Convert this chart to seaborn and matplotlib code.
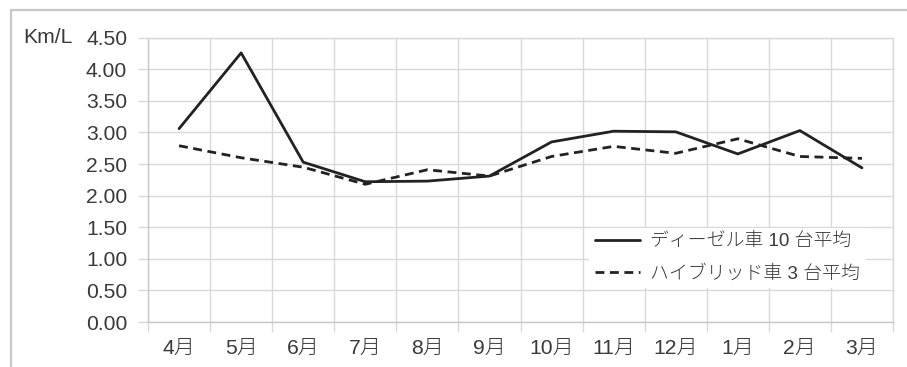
import matplotlib
matplotlib.use("Agg")
import matplotlib.pyplot as plt
from matplotlib.patches import Rectangle
from matplotlib.ticker import FixedLocator, NullFormatter
import seaborn as sns
import pandas as pd

months = ["4月", "5月", "6月", "7月", "8月", "9月", "10月", "11月", "12月", "1月", "2月", "3月"]
diesel = [3.06, 4.26, 2.53, 2.22, 2.23, 2.31, 2.85, 3.02, 3.01, 2.66, 3.03, 2.44]
hybrid = [2.79, 2.60, 2.45, 2.18, 2.41, 2.31, 2.62, 2.78, 2.67, 2.90, 2.62, 2.59]
diesel_label = "ディーゼル車 10 台平均"
hybrid_label = "ハイブリッド車 3 台平均"
y_ticks = [0.0, 0.5, 1.0, 1.5, 2.0, 2.5, 3.0, 3.5, 4.0, 4.5]
unit = "Km/L"

sns.set_theme(style="white")
plt.rcParams["font.family"] = ["Liberation Sans", "Noto Sans CJK JP", "DejaVu Sans"]

text_color = "#3a3a3a"
grid_color = "#d9d9d9"
line_color = "#222222"
fs = 15.2

W, H = 907, 367
fig = plt.figure(figsize=(W / 100, H / 100), dpi=100)
ax = fig.add_axes([148 / W, (H - 322) / H, (893 - 148) / W, (322 - 37.7) / H])

df = pd.DataFrame({"pos": range(len(months)), "diesel": diesel, "hybrid": hybrid})
sns.lineplot(data=df, x="pos", y="diesel", ax=ax, color=line_color, lw=2.0,
             label=diesel_label, zorder=3)
sns.lineplot(data=df, x="pos", y="hybrid", ax=ax, color=line_color, lw=2.0,
             linestyle=(0, (3.2, 2.0)), label=hybrid_label, zorder=3)

ax.set_xlim(-0.5, len(months) - 0.5)
ax.set_ylim(0, 4.5)
ax.set_xlabel("")
ax.set_ylabel("")

# category labels at centres, tick marks and vertical grid at category boundaries
ax.set_xticks(range(len(months)))
ax.set_xticklabels(months, fontsize=fs, color=text_color, fontweight="light")
ax.tick_params(axis="x", which="major", length=0, pad=12)
ax.xaxis.set_minor_locator(FixedLocator([i - 0.5 for i in range(len(months) + 1)]))
ax.xaxis.set_minor_formatter(NullFormatter())
ax.tick_params(axis="x", which="minor", length=7, width=1, color=grid_color, bottom=True)
ax.grid(axis="x", which="minor", color=grid_color, lw=1)

ax.set_yticks(y_ticks)
ax.set_yticklabels([f"{v:.2f}" for v in y_ticks], fontsize=fs, color=text_color)
ax.tick_params(axis="y", length=7, width=1, color=grid_color, left=True, pad=8)
ax.grid(axis="y", which="major", color=grid_color, lw=1)
ax.set_axisbelow(True)

for side in ["top", "right"]:
    ax.spines[side].set_color(grid_color)
    ax.spines[side].set_linewidth(1)
for side in ["left", "bottom"]:
    ax.spines[side].set_color("#c8c8c8")
    ax.spines[side].set_linewidth(1)

leg = ax.legend(loc="lower left", bbox_to_anchor=(0.592, 0.118), frameon=True,
                fancybox=False, framealpha=1, facecolor="white", edgecolor="none",
                prop={"size": 13.6, "weight": "light"},
                handlelength=2.4, handletextpad=0.55,
                labelspacing=0.78, borderpad=0.3, borderaxespad=0)
for t in leg.get_texts():
    t.set_color(text_color)

fig.text(23 / W, 1 - 37.7 / H, unit, fontsize=fs, color=text_color,
         ha="left", va="center")

# outer chart frame
fig.patches.append(Rectangle((11 / W, -0.1), 1.2, 1 - 10.5 / H + 0.1,
                             transform=fig.transFigure, fill=False,
                             edgecolor="#c8c8c8", lw=1.6))

fig.savefig("out.png", dpi=100)
